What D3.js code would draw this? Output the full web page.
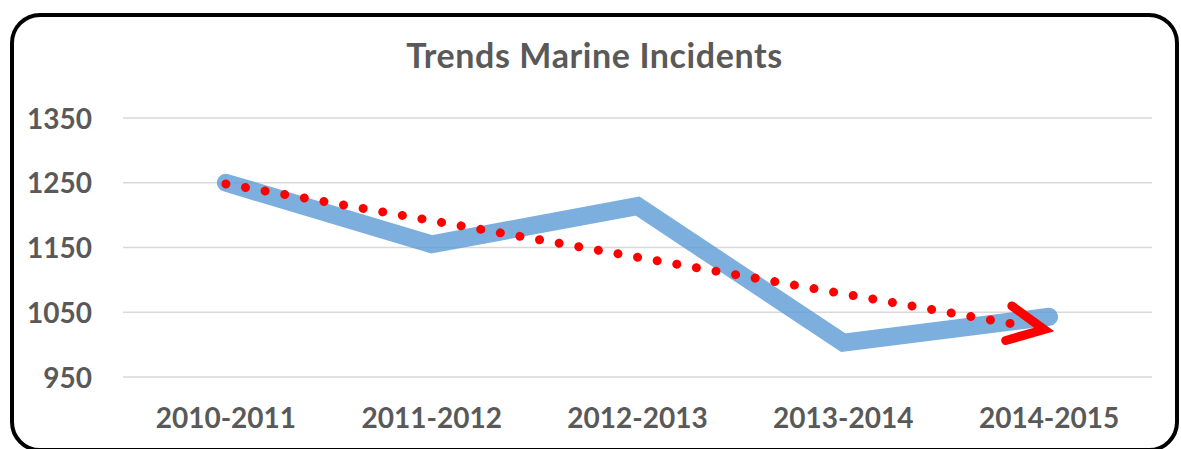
<!DOCTYPE html>
<html>
<head>
<meta charset="utf-8">
<script src="https://cdn.jsdelivr.net/npm/d3@7"></script>
<style>
  html, body { margin: 0; padding: 0; background: #ffffff; }
  svg { display: block; }
  text { font-family: Lato, "Open Sans", sans-serif; font-weight: 700; fill: #595959; }
</style>
</head>
<body>
<svg id="chart" width="1181" height="449"></svg>
<script>
// Marine incidents per financial year
const categories = ["2010-2011", "2011-2012", "2012-2013", "2013-2014", "2014-2015"];
const incidents = [1250, 1155, 1214, 1003, 1043];
// Linear trend line, value at the first and the last year
const trendValues = [1248, 1022];
const yTicks = [950, 1050, 1150, 1250, 1350];
const chartTitle = "Trends Marine Incidents";

const svg = d3.select("#chart");

// Rounded chart frame
svg.append("rect")
  .attr("x", 12).attr("y", 15)
  .attr("width", 1165).attr("height", 435)
  .attr("rx", 28).attr("ry", 28)
  .attr("fill", "#ffffff")
  .attr("stroke", "#000000")
  .attr("stroke-width", 4);

const plot = { left: 123, right: 1152, top: 118, bottom: 377 };

const x = d3.scaleBand()
  .domain(categories)
  .range([plot.left, plot.right]);

const y = d3.scaleLinear()
  .domain([950, 1350])
  .range([plot.bottom, plot.top]);

const cx = d => x(d) + x.bandwidth() / 2;

// Title
svg.append("text")
  .attr("x", 594.5).attr("y", 68)
  .attr("text-anchor", "middle")
  .style("font-size", "34px")
  .style("letter-spacing", "0.6px")
  .text(chartTitle);

// Horizontal gridlines
svg.append("g")
  .selectAll("line")
  .data(yTicks)
  .join("line")
  .attr("x1", plot.left).attr("x2", plot.right)
  .attr("y1", d => y(d)).attr("y2", d => y(d))
  .attr("stroke", "#d9d9d9")
  .attr("stroke-width", 1.5);

// Y axis labels
const yAxis = svg.append("g")
  .attr("transform", `translate(${plot.left},0)`)
  .call(d3.axisLeft(y).tickValues(yTicks).tickSize(0).tickPadding(31).tickFormat(d3.format("d")));
yAxis.select(".domain").remove();
yAxis.selectAll("text")
  .attr("fill", "#595959")
  .style("font-family", "Lato, 'Open Sans', sans-serif")
  .style("font-weight", "700")
  .style("font-size", "28px")
  .attr("dy", "0.36em");

// X axis labels
const xAxis = svg.append("g")
  .attr("transform", `translate(0,${plot.bottom})`)
  .call(d3.axisBottom(x).tickSize(0).tickPadding(31));
xAxis.select(".domain").remove();
xAxis.selectAll("text")
  .attr("fill", "#595959")
  .style("font-family", "Lato, 'Open Sans', sans-serif")
  .style("font-weight", "700")
  .style("font-size", "28px")
  .attr("dy", "0.71em");

// Incident series
const line = d3.line()
  .x((d, i) => cx(categories[i]))
  .y(d => y(d));

svg.append("path")
  .datum(incidents)
  .attr("d", line)
  .attr("fill", "none")
  .attr("stroke", "#5b9bd5")
  .attr("stroke-opacity", 0.8)
  .attr("stroke-width", 18)
  .attr("stroke-linecap", "round")
  .attr("stroke-linejoin", "miter");

// Dotted trend line
const t0 = [cx(categories[0]), y(trendValues[0])];
const t1 = [cx(categories[categories.length - 1]), y(trendValues[1])];
const ang = Math.atan2(t1[1] - t0[1], t1[0] - t0[0]);
const tip = [t1[0] - 5 * Math.cos(ang), t1[1] - 5 * Math.sin(ang)];
const stopBack = 20;
svg.append("line")
  .attr("x1", t0[0]).attr("y1", t0[1])
  .attr("x2", t1[0] - stopBack * Math.cos(ang))
  .attr("y2", t1[1] - stopBack * Math.sin(ang))
  .attr("stroke", "#ff0000")
  .attr("stroke-width", 9)
  .attr("stroke-linecap", "round")
  .attr("stroke-dasharray", "0.01 19.9");

// Open arrow head at the end of the trend
const armLen = 40, spread = 26 * Math.PI / 180;
const back = ang + Math.PI;
const a1 = [tip[0] + armLen * Math.cos(back - spread), tip[1] + armLen * Math.sin(back - spread)];
const a2 = [tip[0] + armLen * Math.cos(back + spread), tip[1] + armLen * Math.sin(back + spread)];
svg.append("path")
  .attr("d", d3.line()([a1, tip, a2]))
  .attr("fill", "none")
  .attr("stroke", "#ff0000")
  .attr("stroke-width", 9)
  .attr("stroke-linecap", "round")
  .attr("stroke-linejoin", "miter");
</script>
</body>
</html>
